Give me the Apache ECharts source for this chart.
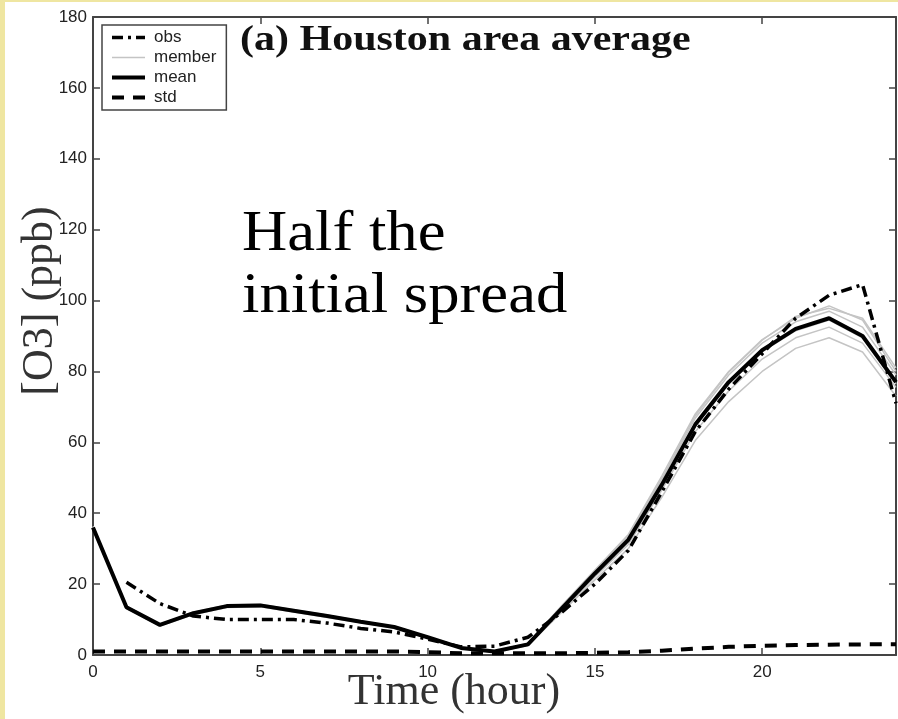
<!DOCTYPE html>
<html>
<head>
<meta charset="utf-8">
<script src="https://cdn.jsdelivr.net/npm/echarts@6/dist/echarts.min.js"></script>
<style>
  html, body { margin: 0; padding: 0; background: #efe6a1; }
  #chart { position: absolute; left: 5px; top: 2px; width: 893px; height: 717px; background: #fff; }
</style>
</head>
<body>
<div id="chart"></div>
<script>
// hours 0..24
const hours = [0, 1, 2, 3, 4, 5, 6, 7, 8, 9, 10, 11, 12, 13, 14, 15, 16, 17, 18, 19, 20, 21, 22, 23, 24]

const obs = [null, 20.5, 14.5, 11, 10, 10, 10, 9, 7.5, 6.5, 4.5, 2.3, 2.5, 5, 12, 20, 29.5, 46, 63, 75, 85, 95, 101.5, 104.5, 71]
const mean = [36, 13.5, 8.5, 11.8, 13.8, 14, 12.5, 11, 9.4, 7.9, 5, 2, 1, 3, 13, 23, 32.5, 48, 65, 77, 86, 92, 95, 90, 77]
const std = [1, 1, 1, 1, 1, 1, 1, 1, 1, 1, 0.8, 0.5, 0.5, 0.5, 0.5, 0.6, 0.8, 1.2, 1.8, 2.3, 2.6, 2.8, 2.9, 3, 3]

// ensemble members
const member1 = [36.3, 13.8, 8.7, 12.1, 14.1, 14.3, 12.8, 11.3, 9.6, 8.1, 5.2, 2.1, 1.1, 3.3, 13.8, 24, 34, 50.5, 68, 80, 89, 95, 98.5, 94.5, 80]
const member2 = [36.1, 13.6, 8.6, 11.9, 13.9, 14.2, 12.6, 11.1, 9.5, 8, 5.1, 2, 1, 3.1, 13.4, 23.6, 33.3, 49.3, 66.8, 79, 88, 94, 97, 92.5, 79]
const member3 = [35.9, 13.4, 8.4, 11.7, 13.7, 13.9, 12.4, 10.9, 9.3, 7.8, 4.9, 1.9, 0.9, 2.9, 12.7, 22.6, 32, 47.5, 64.5, 76.5, 85.5, 91.5, 94.5, 89.5, 76.5]
const member4 = [35.7, 13.2, 8.3, 11.5, 13.5, 13.7, 12.2, 10.7, 9.2, 7.7, 4.8, 1.9, 0.9, 2.8, 12.3, 22, 31.2, 46.5, 63, 74.5, 83.5, 89.5, 92.5, 88, 75.5]
const member5 = [35.6, 13.1, 8.2, 11.4, 13.4, 13.6, 12.1, 10.6, 9.1, 7.6, 4.7, 1.8, 0.8, 2.7, 12, 21.2, 30, 44.5, 60.5, 71.5, 80, 86.5, 89.5, 85.5, 73]
const member6 = [36.2, 13.7, 8.6, 12, 14, 14.1, 12.7, 11.2, 9.5, 8, 5.1, 2, 1, 3.2, 13.6, 23.8, 33.6, 49.8, 67.5, 79.8, 88.8, 95.5, 97.8, 95, 81]
const members = [member1, member2, member3, member4, member5, member6]

const xTicks = { min: 0, max: 24, interval: 5 }
const yTicks = { min: 0, max: 180, interval: 20 }

const pairs = (vals) => hours.map((h, i) => [h, vals[i]])

const chart = echarts.init(document.getElementById('chart'))

const axisLine = { onZero: false, lineStyle: { color: '#444', width: 2 } }
const axisTick = { inside: true, length: 7, lineStyle: { color: '#444', width: 1.5 } }
const tickFont = { fontFamily: 'Liberation Sans', fontSize: 17, color: '#222' }

const memberSeries = members.map((m) => ({
  name: 'member',
  type: 'line',
  data: pairs(m),
  symbol: 'none',
  lineStyle: { color: '#c4c4c4', width: 1.5 },
  itemStyle: { color: '#c4c4c4' },
  z: 1,
}))

const option = {
  animation: false,
  grid: { left: 88, right: 2, top: 15, bottom: 64 },
  legend: {
    orient: 'vertical',
    left: 97,
    top: 23,
    padding: [4, 10, 4, 8],
    itemGap: 3,
    itemWidth: 33,
    itemHeight: 14,
    borderColor: '#444',
    borderWidth: 1.5,
    backgroundColor: '#fff',
    itemStyle: { opacity: 0 },
    textStyle: { fontFamily: 'Liberation Sans', fontSize: 17, color: '#222', padding: [0, 0, 0, 4] },
    data: [
      { name: 'obs', lineStyle: { width: 3.5 } },
      { name: 'member', lineStyle: { width: 1.5 } },
      { name: 'mean', lineStyle: { width: 4 } },
      { name: 'std', lineStyle: { width: 4 } },
    ],
  },
  xAxis: [
    {
      type: 'value', ...xTicks, position: 'bottom',
      axisLine, axisTick, splitLine: { show: false },
      axisLabel: { ...tickFont, margin: 9, showMaxLabel: false },
    },
    {
      type: 'value', ...xTicks, position: 'top',
      axisLine, axisTick, splitLine: { show: false },
      axisLabel: { show: false },
    },
  ],
  yAxis: [
    {
      type: 'value', ...yTicks, position: 'left',
      axisLine: { show: true, ...axisLine }, axisTick, splitLine: { show: false },
      axisLabel: { ...tickFont, margin: 6 },
    },
    {
      type: 'value', ...yTicks, position: 'right',
      axisLine: { show: true, ...axisLine }, axisTick, splitLine: { show: false },
      axisLabel: { show: false },
    },
  ],
  graphic: [
    {
      type: 'text', left: 235, top: 21, scaleX: 1.2,
      style: { text: '(a) Houston area average', font: 'bold 35px "Liberation Serif"', fill: '#111' },
    },
    {
      type: 'text', left: 237, top: 202, scaleX: 1.08,
      style: { text: 'Half the\ninitial spread', font: '58px "Liberation Serif"', lineHeight: 62, fill: '#000' },
    },
    {
      type: 'text', x: 35, y: 299, rotation: Math.PI / 2,
      style: { text: '[O3] (ppb)', font: '44px "Liberation Serif"', fill: '#333', align: 'center', verticalAlign: 'middle' },
    },
    {
      type: 'text', x: 449, y: 690,
      style: { text: 'Time (hour)', font: '44px "Liberation Serif"', fill: '#333', align: 'center', verticalAlign: 'middle' },
    },
  ],
  series: [
    ...memberSeries,
    {
      name: 'mean', type: 'line', data: pairs(mean), symbol: 'none', z: 3,
      lineStyle: { color: '#000', width: 4 }, itemStyle: { color: '#000' },
    },
    {
      name: 'obs', type: 'line', data: pairs(obs), symbol: 'none', z: 4,
      lineStyle: { color: '#000', width: 3.5, type: [11, 5, 3, 5] }, itemStyle: { color: '#000' },
    },
    {
      name: 'std', type: 'line', data: pairs(std), symbol: 'none', z: 4,
      lineStyle: { color: '#000', width: 4, type: [12, 9] }, itemStyle: { color: '#000' },
    },
  ],
}

chart.setOption(option)
window.addEventListener('resize', () => chart.resize())
</script>
</body>
</html>
